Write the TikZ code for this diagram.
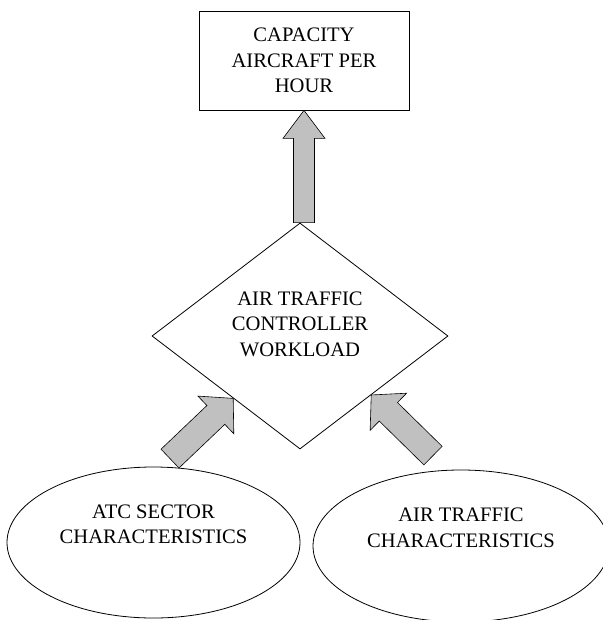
\documentclass[tikz,border=0pt]{standalone}
\usepackage{fontspec}
\setmainfont{Liberation Serif}
\usetikzlibrary{positioning, shapes.geometric, calc}
\definecolor{arrowgray}{RGB}{192,192,192}

% wide grey arrow: tail, tip, half shaft width, half head width, head length
\newcommand{\fatarrow}[5]{%
    \coordinate (fa-b) at ($(#2)!#5!(#1)$);
    \draw[bigarrow] ($(#1)!#3!90:(#2)$) -- ($(fa-b)!#3!90:(#2)$) -- ($(fa-b)!#4!90:(#2)$)
        -- (#2) -- ($(fa-b)!#4!-90:(#2)$) -- ($(fa-b)!#3!-90:(#2)$) -- ($(#1)!#3!-90:(#2)$) -- cycle;
}

\begin{document}
\begin{tikzpicture}[
                x=1pt, y=-1pt,
                line width=0.8pt,
                txt/.style={align=center, font=\fontsize{20.6}{25.5}\selectfont},
                box/.style={txt, draw, rectangle, minimum width=210pt, minimum height=99pt},
                decision/.style={draw, diamond, inner sep=0pt, minimum width=296pt, minimum height=226pt},
                blob/.style={draw, ellipse, inner sep=0pt},
                bigarrow/.style={draw, fill=arrowgray, line width=0.6pt, line join=miter},
            ]
                \useasboundingbox (0,0) rectangle (602,620);

                % Draw the result box and the workload diamond
                \node[box] (cap) at (304,60.5) {CAPACITY\\AIRCRAFT PER\\HOUR};
                \node[decision, label={[txt, yshift=12pt]center:AIR TRAFFIC\\CONTROLLER\\WORKLOAD}] (wl) at (300,336) {};

                % Draw the two input ellipses
                \node[blob, minimum width=293pt, minimum height=151pt,
                      label={[txt, yshift=18pt]center:ATC SECTOR\\CHARACTERISTICS}] (atc) at (153.5,542.5) {};
                \node[blob, minimum width=296pt, minimum height=152pt,
                      label={[txt, yshift=18pt]center:AIR TRAFFIC\\CHARACTERISTICS}] (rc) at (461,546) {};

                % Ends of the arrows
                \coordinate (wl-top) at (wl.north -| cap.south);
                \coordinate (atc-tail) at ($(atc.north)+(16.5,-8)$);
                \coordinate (atc-tip) at ($(wl.west)!0.55!(wl.south)$);
                \coordinate (rc-tail) at ($(rc.north)+(-28,-14)$);
                \coordinate (rc-tip) at ($(wl.east)!0.52!(wl.south)$);

                % Connect the inputs to the workload and the workload to the capacity
                \fatarrow{wl-top}{cap.south}{10.5pt}{21pt}{28pt}
                \fatarrow{atc-tail}{atc-tip}{13pt}{26pt}{24pt}
                \fatarrow{rc-tail}{rc-tip}{13pt}{26pt}{24pt}
            \end{tikzpicture}
\end{document}
